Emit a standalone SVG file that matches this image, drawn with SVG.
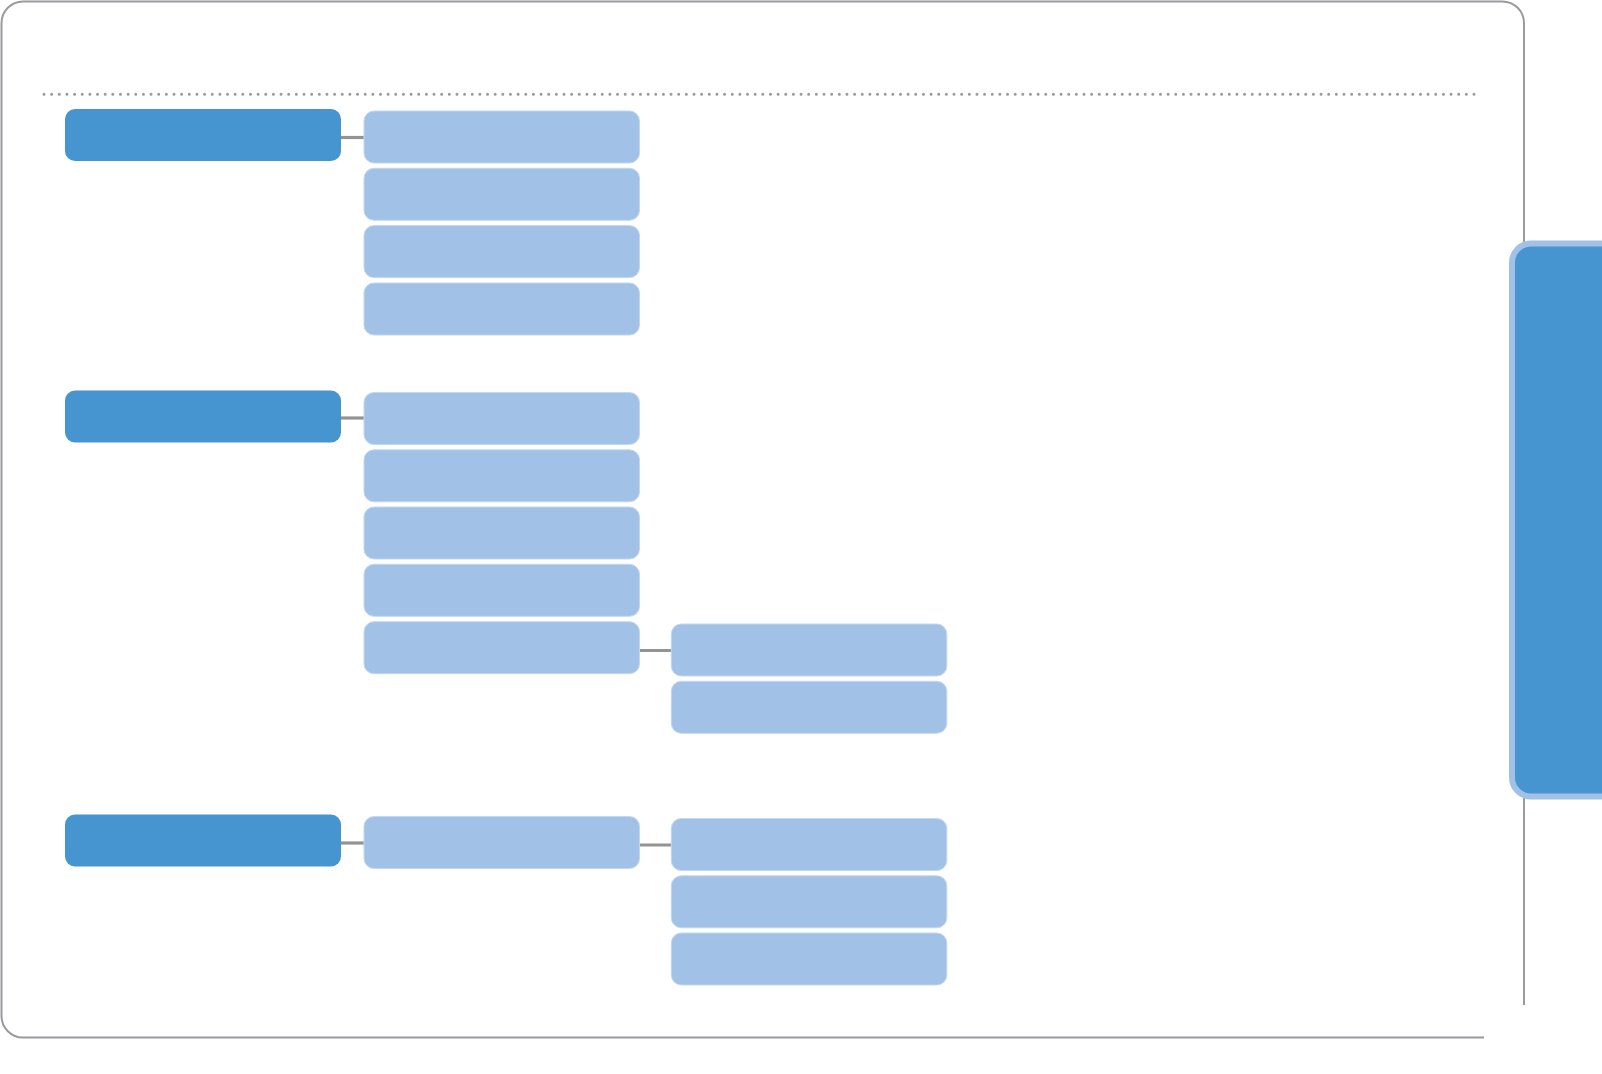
<svg xmlns="http://www.w3.org/2000/svg" width="1602" height="1074" viewBox="0 0 1602 1074">
  <defs>
    <style>
      .frame { fill: none; stroke: #9a9a9e; stroke-width: 2; }
      .dots { fill: none; stroke: #9a9a9e; stroke-width: 3; stroke-linecap: round; stroke-dasharray: 0 7.647; }
      .dark { fill: #4795d0; }
      .light { fill: #a2c1e6; stroke: #c2d7f0; stroke-width: 1; }
      .conn { stroke: #939393; stroke-width: 3.2; fill: none; }
      .tab { fill: #4795d0; stroke: #a2c1e6; stroke-width: 6; }
    </style>
  </defs>
  <rect width="1602" height="1074" fill="#ffffff"/>
  <path class="frame" d="M1524,1005 V23 A21.5,21.5 0 0 0 1502.5,1.5 H23 A21.5,21.5 0 0 0 1.5,23 V1016 A21.5,21.5 0 0 0 23,1037.5 H1484"/>
  <line class="dots" x1="44" y1="94.3" x2="1474" y2="94.3"/>
  <g id="tab"><rect class="tab" x="1512" y="243.5" width="130" height="553" rx="19"/></g>

  <g id="connectors">
    <line class="conn" x1="340" y1="137.5" x2="365" y2="137.5"/>
    <line class="conn" x1="340" y1="418" x2="365" y2="418"/>
    <line class="conn" x1="638" y1="650.5" x2="672" y2="650.5"/>
    <line class="conn" x1="340" y1="843" x2="365" y2="843"/>
    <line class="conn" x1="638" y1="845" x2="672" y2="845"/>
  </g>

  <g id="g1-root"><rect class="dark" x="65" y="109" width="276" height="52" rx="10"/></g>
  <g id="g1-a"><rect class="light" x="364" y="111" width="275.5" height="52" rx="10"/></g>
  <g id="g1-b"><rect class="light" x="364" y="168.3" width="275.5" height="52" rx="10"/></g>
  <g id="g1-c"><rect class="light" x="364" y="225.6" width="275.5" height="52" rx="10"/></g>
  <g id="g1-d"><rect class="light" x="364" y="283" width="275.5" height="52" rx="10"/></g>

  <g id="g2-root"><rect class="dark" x="65" y="390.5" width="276" height="52" rx="10"/></g>
  <g id="g2-a"><rect class="light" x="364" y="392.5" width="275.5" height="52" rx="10"/></g>
  <g id="g2-b"><rect class="light" x="364" y="449.8" width="275.5" height="52" rx="10"/></g>
  <g id="g2-c"><rect class="light" x="364" y="507" width="275.5" height="52" rx="10"/></g>
  <g id="g2-d"><rect class="light" x="364" y="564.3" width="275.5" height="52" rx="10"/></g>
  <g id="g2-e"><rect class="light" x="364" y="621.7" width="275.5" height="52" rx="10"/></g>
  <g id="g2-e1"><rect class="light" x="671.3" y="624" width="275.5" height="52" rx="10"/></g>
  <g id="g2-e2"><rect class="light" x="671.3" y="681.3" width="275.5" height="52" rx="10"/></g>

  <g id="g3-root"><rect class="dark" x="65" y="814.5" width="276" height="52" rx="10"/></g>
  <g id="g3-a"><rect class="light" x="364" y="816.5" width="275.5" height="52" rx="10"/></g>
  <g id="g3-a1"><rect class="light" x="671.3" y="818.5" width="275.5" height="52" rx="10"/></g>
  <g id="g3-a2"><rect class="light" x="671.3" y="875.8" width="275.5" height="52" rx="10"/></g>
  <g id="g3-a3"><rect class="light" x="671.3" y="933" width="275.5" height="52" rx="10"/></g>
</svg>
